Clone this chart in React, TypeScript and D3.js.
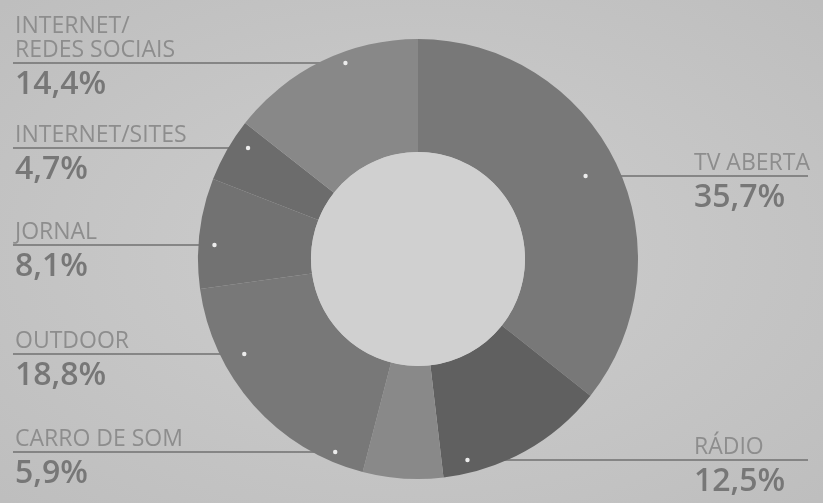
import React from "react";
import * as d3 from "d3";

// ---- data ----
const categories = [
  "TV ABERTA",
  "RÁDIO",
  "CARRO DE SOM",
  "OUTDOOR",
  "JORNAL",
  "INTERNET/SITES",
  "INTERNET/\nREDES SOCIAIS",
];
const values = [35.7, 12.5, 5.9, 18.8, 8.1, 4.7, 14.4];
const valueLabels = ["35,7%", "12,5%", "5,9%", "18,8%", "8,1%", "4,7%", "14,4%"];

// ---- styles / layout ----
const sliceColors = ["#787878", "#606060", "#898989", "#787878", "#727272", "#6c6c6c", "#888888"];
const labelSide = ["right", "right", "left", "left", "left", "left", "left"];
const labelLineY = [176, 460, 452, 354, 245, 148, 63];
const dotRadius = [187, 207, 210, 198, 204, 203, 209];

const W = 823;
const H = 503;
const cx = 418;
const cy = 259;
const outerR = 220;
const innerR = 107;

export default function App() {
  const pie = d3
    .pie<number>()
    .sort(null)
    .value((d) => d)
    .startAngle(0)
    .endAngle(2 * Math.PI);
  const arcs = pie(values);
  const arcGen = d3.arc<d3.PieArcDatum<number>>().innerRadius(innerR).outerRadius(outerR);

  const font = "'Open Sans', 'Noto Sans', sans-serif";

  const dotX = (i: number) => {
    const dy = labelLineY[i] - cy;
    const r = dotRadius[i];
    const dx = Math.sqrt(Math.max(0, r * r - dy * dy));
    return labelSide[i] === "left" ? cx - dx : cx + dx;
  };

  return (
    <svg
      width={W}
      height={H}
      style={{ position: "fixed", top: 0, left: 0, display: "block" }}
    >
      <defs>
        <radialGradient id="bg" cx="50%" cy="50%" r="70%">
          <stop offset="0%" stopColor="#cecece" />
          <stop offset="100%" stopColor="#bebebe" />
        </radialGradient>
      </defs>
      <rect x={0} y={0} width={W} height={H} fill="url(#bg)" />

      {/* leader lines (under the donut) */}
      {categories.map((c, i) => {
        const y = labelLineY[i];
        const x1 = labelSide[i] === "left" ? 13 : 808;
        return (
          <line key={"l" + i} x1={x1} x2={dotX(i)} y1={y} y2={y} stroke="#707070" strokeWidth={1.5} />
        );
      })}

      <g transform={`translate(${cx},${cy})`}>
        {arcs.map((a, i) => (
          <path key={i} d={arcGen(a) || ""} fill={sliceColors[i]} />
        ))}
      </g>
      <circle cx={cx} cy={cy} r={innerR} fill="#d0d0d0" />

      {/* dots */}
      {categories.map((c, i) => (
        <circle key={"d" + i} cx={dotX(i)} cy={labelLineY[i]} r={2.2} fill="#ececec" />
      ))}

      {/* labels */}
      {categories.map((c, i) => {
        const lines = c.split("\n");
        const x = labelSide[i] === "left" ? 15 : 694;
        const y = labelLineY[i];
        return (
          <g key={"t" + i}>
            {lines.map((ln, j) => (
              <text
                key={j}
                x={x}
                y={y - 6 - (lines.length - 1 - j) * 24}
                fontFamily={font}
                fontSize={23}
                fill="#8d8d8d"
              >
                {ln}
              </text>
            ))}
            <text x={x} y={y + 31} fontFamily={font} fontSize={32} fontWeight={600} fill="#777777">
              {valueLabels[i]}
            </text>
          </g>
        );
      })}
    </svg>
  );
}
